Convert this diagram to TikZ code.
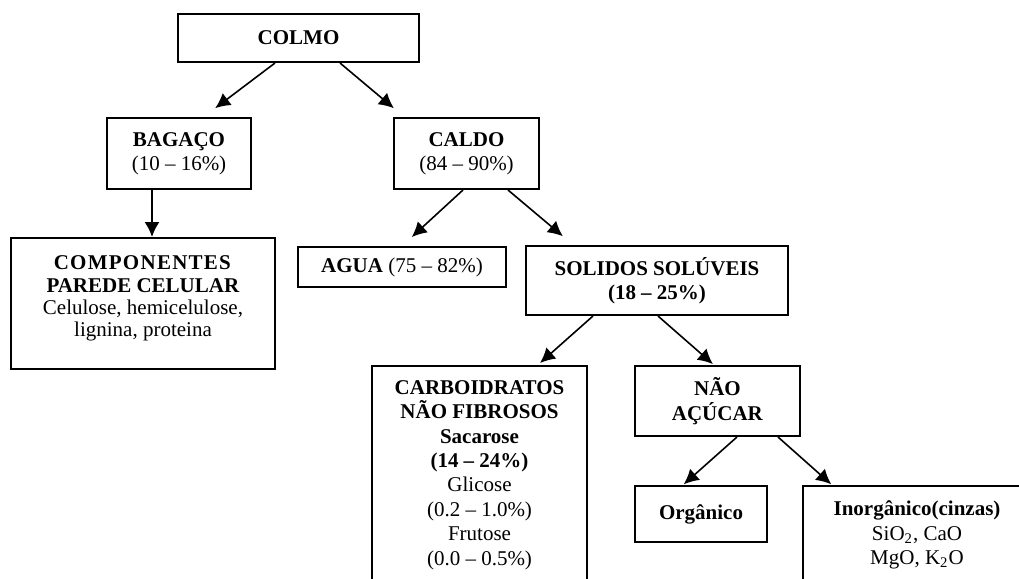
\documentclass[tikz,border=0pt]{standalone}
\usepackage{fontspec}
\setmainfont{Liberation Serif}
\usetikzlibrary{arrows.meta}
\tikzset{
  >={Latex[length=7.5pt,width=7.5pt]},
  {box/.style} ={draw, line width=1pt, rectangle, align=center, inner sep=0pt,
                 font=\fontsize{10.5}{12.2}\selectfont},
  {link/.style} ={line width=0.8pt, ->},
}
\begin{document}
\begin{tikzpicture}[x=0.5pt,y=-0.5pt]
  \useasboundingbox (0,0) rectangle (1019,579);
  \clip (0,0) rectangle (1019,579);
  % level 0 and 1
  \node[box, minimum width=120.5pt, minimum height=24pt] (colmo) at (298.5,38) {\textbf{COLMO}};
  \node[box, minimum width=72pt, minimum height=35.5pt] (bagaco) at (179,153.5) {\textbf{BAGAÇO}\\(10 – 16\%)};
  \node[box, minimum width=72.5pt, minimum height=35.5pt] (caldo) at (466.5,153.5) {\textbf{CALDO}\\(84 – 90\%)};
  % level 2
  \node[box, minimum width=132pt, minimum height=65.5pt, font=\fontsize{10.5}{11.2}\selectfont] (parede) at (143,303.5)
    {\textbf{\addfontfeature{LetterSpace=6}COMPONENTES}\\\textbf{PAREDE CELULAR}\\Celulose, hemicelulose,\\lignina, proteina\\[-4pt]};
  \node[box, minimum width=104pt, minimum height=20pt] (agua) at (402,267) {\textbf{AGUA} (75 – 82\%)};
  \node[box, minimum width=131pt, minimum height=34.5pt] (solidos) at (657,280.5)
    {\textbf{SOLIDOS SOLÚVEIS}\\\textbf{(18 – 25\%)}};
  % level 3
  \node[box, minimum width=107.5pt, minimum height=109pt] (carbo) at (479.5,475)
    {\textbf{CARBOIDRATOS}\\\textbf{NÃO FIBROSOS}\\\textbf{Sacarose}\\\textbf{(14 – 24\%)}\\Glicose\\(0.2 – 1.0\%)\\Frutose\\(0.0 – 0.5\%)};
  \node[box, minimum width=82.5pt, minimum height=35pt] (nao) at (717.5,401) {\textbf{NÃO}\\\textbf{AÇÚCAR}};
  % level 4
  \node[box, minimum width=66pt, minimum height=28pt] (organico) at (701,514) {\textbf{Orgânico}};
  \node[box, minimum width=114pt, minimum height=49pt] (inorganico) at (917,535)
    {\textbf{Inorgânico(cinzas)}\\SiO\textsubscript{2}, CaO\\MgO, K\textsubscript{2}O};
  % arrows
  \path[link] ([xshift=-11.75pt]colmo.south) edge[shorten >=7.3pt] ([xshift=12.25pt]bagaco.north);
  \path[link] ([xshift=20.75pt]colmo.south) edge[shorten >=6.8pt] ([xshift=-31.1pt]caldo.north);
  \path[link] ([xshift=-13.5pt]bagaco.south) edge ([xshift=4.5pt]parede.north);
  \path[link] ([xshift=-1.75pt]caldo.south) edge[shorten >=6.6pt] (agua.north);
  \path[link] ([xshift=20.75pt]caldo.south) edge[shorten >=6.8pt] ([xshift=-41.85pt]solidos.north);
  \path[link] ([xshift=-32pt]solidos.south) edge[shorten >=1.5pt] ([xshift=29.15pt]carbo.north);
  \path[link] ([xshift=0.5pt]solidos.south) edge[shorten >=0.7pt] ([xshift=-1.75pt]nao.north);
  \path[link] ([xshift=9.75pt]nao.south) edge[shorten >=0.5pt] ([xshift=-9pt]organico.north);
  \path[link] ([xshift=30.25pt]nao.south) edge[shorten >=0.5pt] ([xshift=-42.5pt]inorganico.north);
\end{tikzpicture}
\end{document}
